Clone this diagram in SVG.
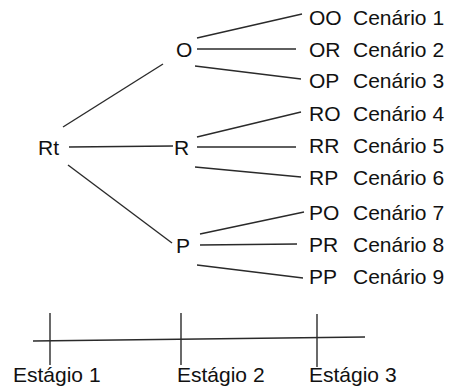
<svg xmlns="http://www.w3.org/2000/svg" width="449" height="392" viewBox="0 0 449 392">
<style>
text{font-family:"Liberation Sans",Arial,sans-serif;font-size:21px;fill:#111}
line{stroke:#2a2a2a;stroke-width:1.4;fill:none}
</style>
<rect width="449" height="392" fill="#fff"/>
<g id="connectors">
<line x1="63" y1="127" x2="163" y2="64"/>
<line x1="69" y1="147" x2="173" y2="146"/>
<line x1="68" y1="165" x2="172" y2="243"/>
<line x1="197" y1="38" x2="302" y2="14"/>
<line x1="197" y1="49" x2="296" y2="49"/>
<line x1="195" y1="66" x2="301" y2="79"/>
<line x1="197" y1="137" x2="301" y2="112"/>
<line x1="197" y1="147" x2="296" y2="147"/>
<line x1="195" y1="167" x2="301" y2="177"/>
<line x1="200" y1="234" x2="304" y2="212"/>
<line x1="200" y1="245" x2="297" y2="244"/>
<line x1="197" y1="265" x2="303" y2="278"/>
</g>
<g id="timeline">
<line x1="33" y1="341" x2="365" y2="337"/>
<line x1="50" y1="313" x2="50" y2="365"/>
<line x1="181" y1="313" x2="181" y2="365"/>
<line x1="317" y1="314" x2="317" y2="367"/>
</g>
<g id="node-Rt"><text x="38" y="155">Rt</text></g>
<g id="node-O"><text x="176" y="57">O</text></g>
<g id="node-R"><text x="174" y="155">R</text></g>
<g id="node-P"><text x="176" y="253">P</text></g>
<g id="leaf-OO"><text x="309" y="25">OO</text><text x="353" y="25">Cenário 1</text></g>
<g id="leaf-OR"><text x="309" y="57">OR</text><text x="353" y="57">Cenário 2</text></g>
<g id="leaf-OP"><text x="309" y="88">OP</text><text x="353" y="88">Cenário 3</text></g>
<g id="leaf-RO"><text x="309" y="121">RO</text><text x="353" y="121">Cenário 4</text></g>
<g id="leaf-RR"><text x="309" y="153">RR</text><text x="353" y="153">Cenário 5</text></g>
<g id="leaf-RP"><text x="309" y="185">RP</text><text x="353" y="185">Cenário 6</text></g>
<g id="leaf-PO"><text x="309" y="220">PO</text><text x="353" y="220">Cenário 7</text></g>
<g id="leaf-PR"><text x="309" y="252">PR</text><text x="353" y="252">Cenário 8</text></g>
<g id="leaf-PP"><text x="309" y="284">PP</text><text x="353" y="284">Cenário 9</text></g>
<g id="stage-1"><text x="13" y="382">Estágio 1</text></g>
<g id="stage-2"><text x="177" y="382">Estágio 2</text></g>
<g id="stage-3"><text x="309" y="382">Estágio 3</text></g>
</svg>
